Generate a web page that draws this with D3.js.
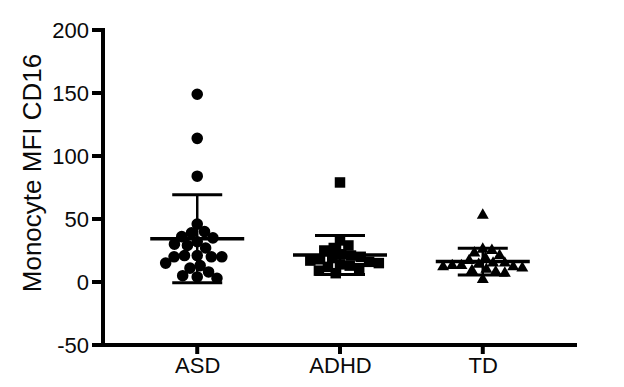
<!DOCTYPE html>
<html>
<head>
<meta charset="utf-8">
<script src="https://cdn.jsdelivr.net/npm/d3@7"></script>
<style>
  body { margin: 0; background: #fff; }
  svg { display: block; font-family: "Liberation Sans", Arial, sans-serif; }
</style>
</head>
<body>
<svg class="chart" width="624" height="387"></svg>
<script>
// groups on the x axis
const groups = ["ASD", "ADHD", "TD"]
const shapes = ["circle", "square", "triangle"]

// monocyte MFI CD16 per subject
const asdValues = [149, 114, 84, 46, 40, 39, 36, 35, 32, 30, 29, 27, 21, 21, 20, 20, 20, 15, 13, 11, 8, 5, 4, 3]
const adhdValues = [79, 33, 29, 27, 25, 22, 21, 20, 19, 18, 17, 16, 15, 14, 13, 12, 11, 9, 7]
const tdValues = [53, 26, 25, 23, 21, 19, 17, 15, 15, 14, 13, 13, 12, 12, 11, 10, 9, 8, 7, 2]

const yTicks = [-50, 0, 50, 100, 150, 200]
const yTitle = "Monocyte MFI CD16"

const allValues = [asdValues, adhdValues, tdValues]

var svg = d3.select(".chart")

var y = d3.scaleLinear().domain([-50, 200]).range([345, 30])
var x = d3.scalePoint().domain(groups).range([103, 577]).padding(0.66)

// axes: labels from d3, lines drawn by hand so they stay thick
var yAxis = svg.append("g")
  .attr("transform", "translate(103,0)")
  .call(d3.axisLeft(y).tickValues(yTicks).tickFormat(d => String(d)).tickSize(0).tickPadding(14))
var xAxis = svg.append("g")
  .attr("transform", "translate(0,345)")
  .call(d3.axisBottom(x).tickSize(0).tickPadding(12))

for (const ax of [yAxis, xAxis]) {
  ax.select(".domain").remove()
  ax.selectAll(".tick line").remove()
  ax.selectAll(".tick text")
    .attr("fill", "#0a0a0a")
    .attr("font-size", "22px")
    .attr("font-family", "Liberation Sans, Arial, sans-serif")
}

var axisLines = svg.append("g").attr("stroke", "#000").attr("stroke-width", 4)
axisLines.append("line")
  .attr("x1", x.range()[0]).attr("x2", x.range()[0])
  .attr("y1", y(200) - 2).attr("y2", y(-50) + 2)
axisLines.append("line")
  .attr("x1", x.range()[0]).attr("x2", x.range()[1])
  .attr("y1", y(-50)).attr("y2", y(-50))
axisLines.selectAll(".ytick")
  .data(yTicks)
  .enter()
  .append("line")
    .attr("x1", x.range()[0] - 11).attr("x2", x.range()[0])
    .attr("y1", d => y(d)).attr("y2", d => y(d))
axisLines.selectAll(".xtick")
  .data(groups)
  .enter()
  .append("line")
    .attr("x1", d => x(d)).attr("x2", d => x(d))
    .attr("y1", y(-50)).attr("y2", y(-50) + 9)

// y title
svg.append("text")
  .attr("transform", "translate(41,173) rotate(-90)")
  .attr("text-anchor", "middle")
  .attr("font-size", "26px")
  .attr("fill", "#0a0a0a")
  .text(yTitle)

// simple beeswarm so the dots don't sit on top of each other
function swarm(values, minDist) {
  let placed = []
  let sorted = values.slice().sort((a, b) => b - a)
  for (const v of sorted) {
    let py = y(v)
    let candidates = [0]
    for (const p of placed) {
      let dy = Math.abs(p.y - py)
      if (dy < minDist) {
        let dx = Math.sqrt(minDist * minDist - dy * dy)
        candidates.push(p.dx + dx, p.dx - dx)
      }
    }
    candidates.sort((a, b) => Math.abs(a) - Math.abs(b))
    let best = candidates.find(c => placed.every(p => {
      let ddx = p.dx - c, ddy = p.y - py
      return ddx * ddx + ddy * ddy >= minDist * minDist - 0.01
    }))
    placed.push({ value: v, y: py, dx: best })
  }
  return placed
}

function symbolPath(shape) {
  if (shape == "circle") return d3.symbol(d3.symbolCircle, 105)()
  if (shape == "square") return d3.symbol(d3.symbolSquare, 110)()
  return d3.symbol(d3.symbolTriangle, 62)()
}

const spacing = [10.5, 9.8, 9.2]

groups.forEach(function (g, i) {
  let vals = allValues[i]
  let cx = x(g)
  let pts = swarm(vals, spacing[i])

  svg.append("g").selectAll("path")
    .data(pts)
    .enter()
    .append("path")
      .attr("d", symbolPath(shapes[i]))
      .attr("transform", d => `translate(${cx + d.dx},${d.y})`)
      .attr("fill", "#000")

  // mean and SD bars
  let m = d3.mean(vals)
  let sd = d3.deviation(vals)
  let bars = svg.append("g").attr("stroke", "#000")
  bars.append("line")
    .attr("x1", cx - 47).attr("x2", cx + 47)
    .attr("y1", y(m)).attr("y2", y(m))
    .attr("stroke-width", 3.5)
  bars.append("line")
    .attr("x1", cx).attr("x2", cx)
    .attr("y1", y(m + sd)).attr("y2", y(m - sd))
    .attr("stroke-width", 2.5)
  for (const v of [m + sd, m - sd]) {
    bars.append("line")
      .attr("x1", cx - 25).attr("x2", cx + 25)
      .attr("y1", y(v)).attr("y2", y(v))
      .attr("stroke-width", 3)
  }
})
</script>
</body>
</html>
